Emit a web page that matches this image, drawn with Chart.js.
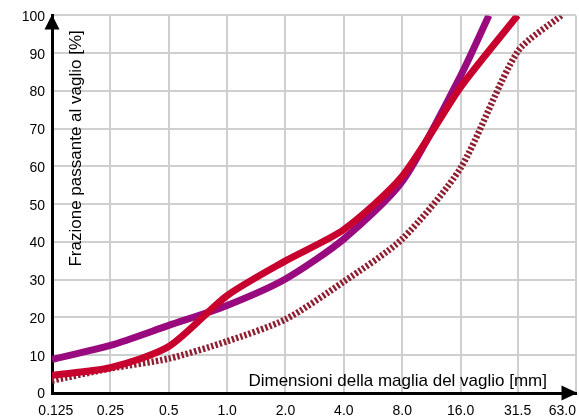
<!DOCTYPE html>
<html>
<head>
<meta charset="utf-8">
<script src="https://cdn.jsdelivr.net/npm/chart.js@4"></script>
<style>
  body { margin: 0; background: #fff; }
  #wrap { width: 579px; height: 419px; }
</style>
</head>
<body>
<div id="wrap"><canvas id="chart"></canvas></div>
<script>
// sieve sizes in mm (x ticks) and their labels
const sieveSizes = [0.125, 0.25, 0.5, 1.0, 2.0, 4.0, 8.0, 16.0, 31.5, 63.0];
const sieveLabels = ['\u00a0\u00a00.125', '0.25', '0.5', '1.0', '2.0', '4.0', '8.0', '16.0', '31.5',
    '63.0\u00a0\u00a0\u00a0\u00a0\u00a0\u00a0\u00a0'];

// red curve
const redSizes = [0.125, 0.25, 0.5, 1.0, 2.0, 4.0, 8.0, 16.0, 31.5];
const redValues = [4.7, 6.7, 12.3, 25.8, 35, 43.3, 57.4, 81, 100];

// purple curve
const purpleSizes = [0.125, 0.25, 0.5, 1.0, 2.0, 4.0, 8.0, 16.0, 22.4];
const purpleValues = [8.9, 12.6, 17.9, 23.2, 30.2, 40.8, 56, 84, 100];

// dotted curve
const dottedSizes = [0.125, 0.25, 0.5, 1.0, 2.0, 4.0, 8.0, 16.0, 31.5, 53];
const dottedValues = [3.3, 6.5, 9.1, 13.7, 19.5, 29.5, 40.8, 59.6, 90.4, 100];

const yTicks = [0, 10, 20, 30, 40, 50, 60, 70, 80, 90, 100];

function points(sizes, values) {
    return sizes.map((s, i) => ({ x: s, y: values[i] }));
}

const axisDecor = {
    id: 'axisDecor',
    afterDraw(chart) {
        const ctx = chart.ctx;
        const a = chart.chartArea;
        ctx.save();
        ctx.fillStyle = '#000';
        // arrow on y axis
        ctx.beginPath();
        ctx.moveTo(a.left, a.top - 1);
        ctx.lineTo(a.left - 7.5, a.top + 14);
        ctx.lineTo(a.left + 7.5, a.top + 14);
        ctx.closePath();
        ctx.fill();
        // arrow on x axis
        ctx.beginPath();
        ctx.moveTo(a.right + 1.5, a.bottom);
        ctx.lineTo(a.right - 14.5, a.bottom - 7.5);
        ctx.lineTo(a.right - 14.5, a.bottom + 7.5);
        ctx.closePath();
        ctx.fill();

        // axis titles inside the plot
        ctx.font = '17px "Liberation Sans", Arial, sans-serif';
        ctx.textBaseline = 'alphabetic';
        ctx.textAlign = 'right';
        ctx.fillText('Dimensioni della maglia del vaglio [mm]', a.left + 495, a.bottom - 7);
        ctx.translate(a.left + 28.5, a.top + 133);
        ctx.rotate(-Math.PI / 2);
        ctx.textAlign = 'center';
        ctx.fillText('Frazione passante al vaglio [%]', 0, 0);
        ctx.restore();
    }
};

new Chart(document.getElementById('chart'), {
    type: 'line',
    data: {
        datasets: [
            {
                label: 'rosso',
                data: points(redSizes, redValues),
                borderColor: '#c8002d',
                borderWidth: 7,
                tension: 0.25,
                pointRadius: 0
            },
            {
                label: 'viola',
                data: points(purpleSizes, purpleValues),
                borderColor: '#990a7e',
                borderWidth: 7,
                tension: 0.25,
                pointRadius: 0
            },
            {
                label: 'tratteggiata',
                data: points(dottedSizes, dottedValues),
                borderColor: '#8f1f33',
                borderWidth: 6.5,
                borderDash: [2.4, 2],
                tension: 0.25,
                pointRadius: 0
            }
        ]
    },
    options: {
        responsive: true,
        maintainAspectRatio: false,
        animation: false,
        layout: {
            padding: { top: 13, right: 3, left: 0, bottom: 0 }
        },
        plugins: {
            legend: { display: false },
            tooltip: { enabled: false }
        },
        scales: {
            x: {
                type: 'logarithmic',
                min: 0.125,
                max: 63,
                afterBuildTicks: s => { s.ticks = sieveSizes.map(v => ({ value: v })); },
                afterFit: s => { s.height = 26; s.paddingLeft = 0; s.paddingRight = 0; },
                grid: { color: '#cfcfcf', lineWidth: 2, drawTicks: false },
                border: { color: '#000', width: 3 },
                ticks: {
                    autoSkip: false,
                    maxRotation: 0,
                    padding: 10,
                    color: '#000',
                    font: { family: '"Liberation Sans", Arial, sans-serif', size: 14 },
                    callback: (v, i) => sieveLabels[i]
                }
            },
            y: {
                min: 0,
                max: 100,
                afterBuildTicks: s => { s.ticks = yTicks.map(v => ({ value: v })); },
                afterFit: s => { s.width = 52; },
                grid: { color: '#cfcfcf', lineWidth: 2, drawTicks: false },
                border: { color: '#000', width: 3 },
                ticks: {
                    padding: 7,
                    labelOffset: 1.5,
                    color: '#000',
                    font: { family: '"Liberation Sans", Arial, sans-serif', size: 14 }
                }
            }
        }
    },
    plugins: [axisDecor]
});
</script>
</body>
</html>
